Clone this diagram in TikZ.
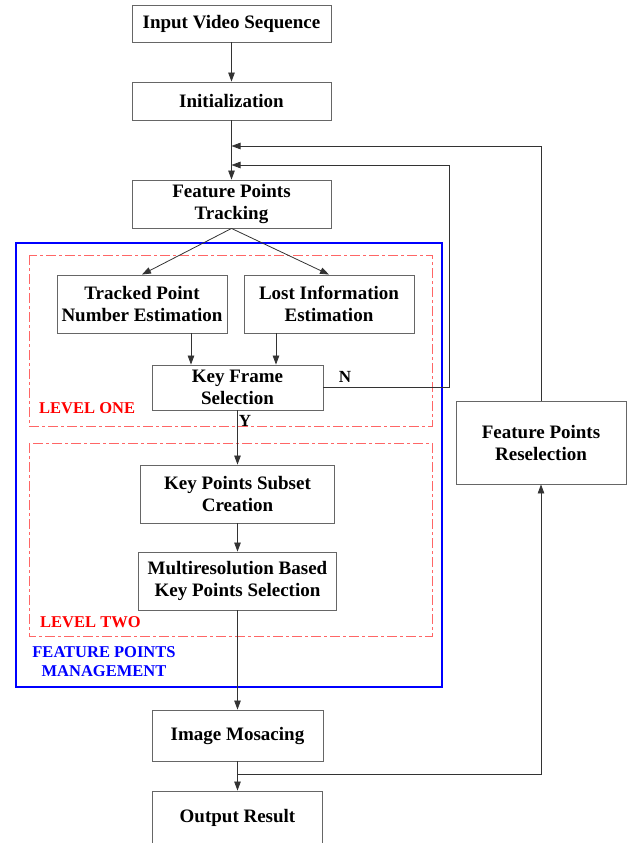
\documentclass[tikz,border=0pt]{standalone}
\usepackage{fontspec}
\setmainfont{Liberation Serif}
\usetikzlibrary{arrows.meta}
\tikzset{
  stage/.style={draw=black!60, line width=0.9pt, fill=white, align=center, inner sep=0pt,
    font=\bfseries\fontsize{19}{22}\selectfont},
  flow/.style={draw=black!80, line width=0.8pt, -{Triangle[length=9pt,width=6.5pt]}},
  levelbox/.style={draw=red!60, line width=1pt, dash pattern=on 10pt off 3pt on 3pt off 3pt},
  leveltext/.style={text=red, anchor=west, inner sep=0pt, font=\bfseries\fontsize{16.5}{19}\selectfont},
  mark text/.style={inner sep=0pt, font=\bfseries\fontsize{17}{19}\selectfont},
}
\begin{document}
\begin{tikzpicture}[x=1pt, y=-1pt]
\useasboundingbox (0,0) rectangle (627,843);
% management frame and the two levels
\draw[blue, line width=2.5pt] (16,243) rectangle (442,687);
\draw[levelbox] (29,255) rectangle (432,426);
\draw[levelbox] (29,443) rectangle (432,636);
\node[leveltext] (one) at (39,408) {LEVEL ONE};
\node[leveltext] (two) at (40,622) {LEVEL TWO};
\node[text=blue, align=center, inner sep=0pt, font=\bfseries\fontsize{16.5}{19}\selectfont] (manage) at (104,662) {FEATURE POINTS\\MANAGEMENT};
% stages
\node[stage, minimum width=199pt, minimum height=37pt] (input) at (231.5,23.5) {Input Video Sequence};
\node[stage, minimum width=199pt, minimum height=38pt] (init) at (231.5,101) {Initialization};
\node[stage, minimum width=199pt, minimum height=48pt] (track) at (231.5,204) {Feature Points\\Tracking};
\node[stage, minimum width=170pt, minimum height=58pt] (count) at (142,304) {Tracked Point\\Number Estimation};
\node[stage, minimum width=170pt, minimum height=58pt] (lost) at (329,304) {Lost Information\\Estimation};
\node[stage, minimum width=171pt, minimum height=45pt] (key) at (237.5,387.5) {Key Frame\\Selection};
\node[stage, minimum width=194pt, minimum height=58pt] (subset) at (237.5,494) {Key Points Subset\\Creation};
\node[stage, minimum width=198pt, minimum height=58pt] (multi) at (237.5,581) {Multiresolution Based\\Key Points Selection};
\node[stage, minimum width=171pt, minimum height=51pt] (mosaic) at (237.5,735.5) {Image Mosacing};
\node[stage, minimum width=170pt, minimum height=54pt] (output) at (237.5,818) {Output Result};
\node[stage, minimum width=170pt, minimum height=83pt] (resel) at (541,442.5) {Feature Points\\Reselection};
% decisions
\node[mark text] (no) at (345,377) {N};
\node[mark text] (yes) at (245,421) {Y};
% connectors
\coordinate (back1) at (231.5,146);
\coordinate (back2) at (231.5,165);
\coordinate (kfturn) at (449,165);
\coordinate (split) at (237.5,774);
\draw[flow] (input) -- (init);
\draw[flow] (init) -- (track);
\draw[flow] (resel.north) |- (back1);
\draw[flow] (key.east) -| (kfturn) -- (back2);
\draw[flow] (track.south) -- (count.north);
\draw[flow] (track.south) -- (lost.north);
\draw[flow] ([xshift=49pt]count.south) -- ([xshift=49pt]count.south |- key.north);
\draw[flow] ([xshift=-53pt]lost.south) -- ([xshift=-53pt]lost.south |- key.north);
\draw[flow] (key) -- (subset);
\draw[flow] (subset) -- (multi);
\draw[flow] (multi) -- (mosaic);
\draw[flow] (mosaic) -- (output);
\draw[flow] (split) -| (resel.south);
\end{tikzpicture}
\end{document}
